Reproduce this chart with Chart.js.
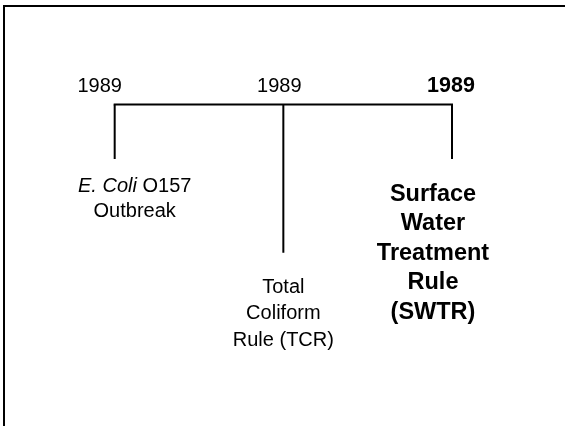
<!DOCTYPE html>
<html>
<head>
<meta charset="utf-8">
<script src="https://cdn.jsdelivr.net/npm/chart.js@4.4.1/dist/chart.umd.min.js"></script>
<style>
  body { margin: 0; background: #fff; }
  #wrap { position: relative; width: 565px; height: 426px; overflow: hidden; }
  #frame { position: absolute; left: 3px; top: 5px; width: 620px; height: 500px;
           border-left: 2px solid #000; border-top: 2px solid #000; }
  #chart { position: absolute; left: 0; top: 0; }
</style>
</head>
<body>
<div id="wrap">
  <div id="frame"></div>
  <canvas id="chart" width="565" height="426"></canvas>
</div>
<script>
// timeline events
const positions = [0, 1, 2];
const years = ['1989', '1989', '1989'];
const stemDepth = [1, 2.72, 1];
const eventLabels = [
  ['E. Coli O157', 'Outbreak'],
  ['Total', 'Coliform', 'Rule (TCR)'],
  ['Surface', 'Water', 'Treatment', 'Rule', '(SWTR)']
];
const italicPart = ['E. Coli', '', ''];
const highlight = [false, false, true];

// look of the text, kept apart from the data
const yearShift = [-15, -4, -1];
const labelShift = [20, 0, -19];
const labelGap = [33, 40, 42];
const lineHeight = [25, 26.5, 29.5];
const FAMILY = '"Liberation Sans", Arial, sans-serif';

function drawLine(ctx, text, italic, cx, y, weight, size) {
  let parts = [];
  if (italic && text.startsWith(italic)) {
    parts.push({ t: italic, f: 'italic ' + weight + ' ' + size + 'px ' + FAMILY });
    parts.push({ t: text.slice(italic.length), f: weight + ' ' + size + 'px ' + FAMILY });
  } else {
    parts.push({ t: text, f: weight + ' ' + size + 'px ' + FAMILY });
  }
  let total = 0;
  parts.forEach(p => { ctx.font = p.f; p.w = ctx.measureText(p.t).width; total += p.w; });
  let x = cx - total / 2;
  parts.forEach(p => { ctx.font = p.f; ctx.fillText(p.t, x, y); x += p.w; });
}

const timelineText = {
  id: 'timelineText',
  afterDatasetsDraw(chart) {
    const ctx = chart.ctx;
    const xs = chart.scales.x, ys = chart.scales.y;
    const y0 = ys.getPixelForValue(0);
    ctx.save();
    ctx.fillStyle = '#000';
    ctx.textAlign = 'left';
    ctx.textBaseline = 'alphabetic';
    positions.forEach((p, i) => {
      const px = xs.getPixelForValue(p);
      const bold = highlight[i];
      drawLine(ctx, years[i], '', px + yearShift[i], y0 - 12.5, bold ? 'bold' : 'normal', bold ? 21.5 : 20);
      const yEnd = ys.getPixelForValue(stemDepth[i]);
      eventLabels[i].forEach((line, j) => {
        drawLine(ctx, line, italicPart[i], px + labelShift[i], yEnd + labelGap[i] + j * lineHeight[i],
                 bold ? 'bold' : 'normal', bold ? 23.5 : 20);
      });
    });
    ctx.restore();
  }
};

const datasets = [{
  data: [{ x: positions[0], y: 0 }, { x: positions[positions.length - 1], y: 0 }],
  borderColor: '#000', borderWidth: 2, borderCapStyle: 'square', pointRadius: 0, showLine: true
}];
positions.forEach((p, i) => {
  datasets.push({
    data: [{ x: p, y: 0 }, { x: p, y: stemDepth[i] }],
    borderColor: '#000', borderWidth: 2, borderCapStyle: 'butt', pointRadius: 0, showLine: true
  });
});

new Chart(document.getElementById('chart'), {
  type: 'scatter',
  data: { datasets: datasets },
  options: {
    responsive: false,
    animation: false,
    layout: { padding: 0 },
    scales: {
      x: { type: 'linear', min: -0.68, max: 2.67, display: false },
      y: { type: 'linear', min: -1.917, max: 5.9, reverse: true, display: false }
    },
    plugins: { legend: { display: false }, tooltip: { enabled: false } }
  },
  plugins: [timelineText]
});
</script>
</body>
</html>
